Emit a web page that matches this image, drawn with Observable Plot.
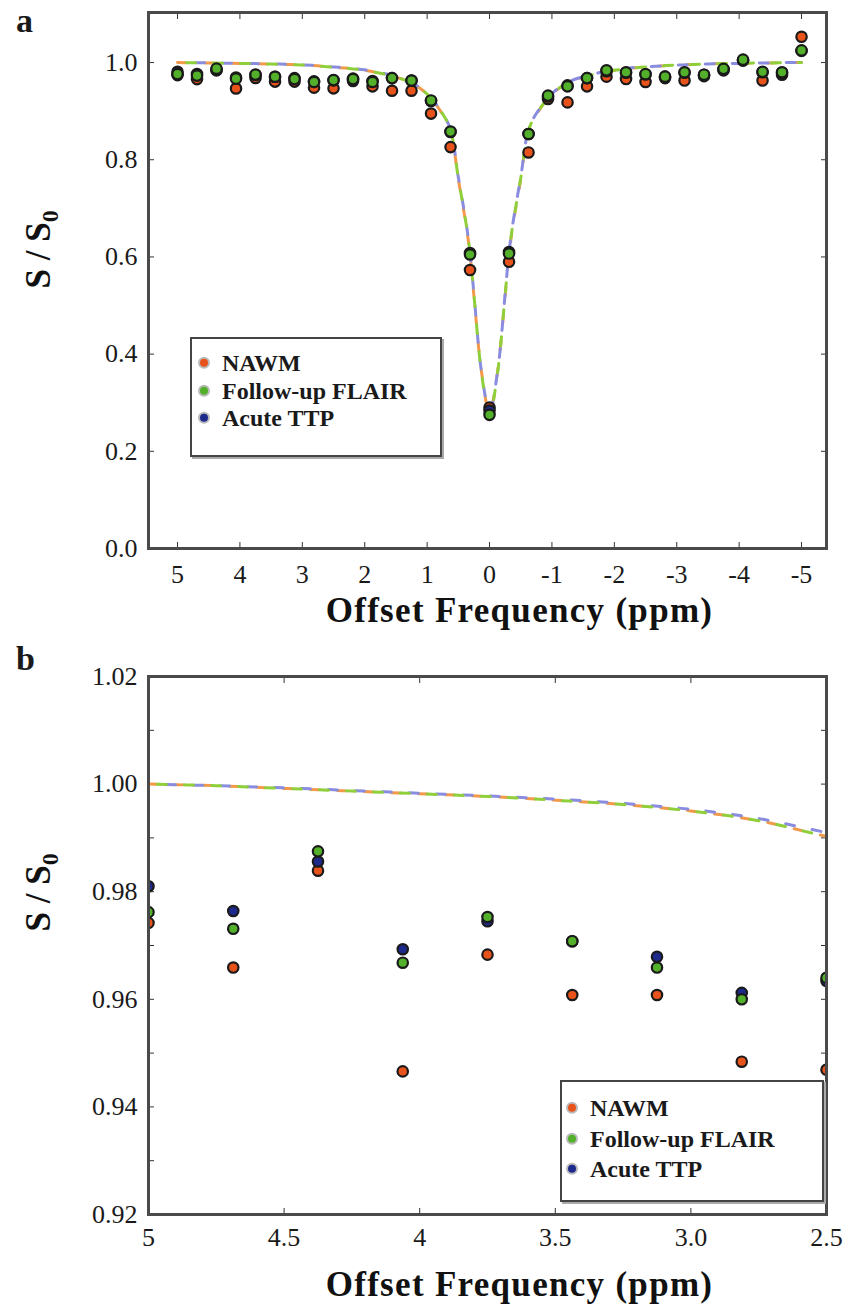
<!DOCTYPE html>
<html><head><meta charset="utf-8">
<script src="https://cdn.jsdelivr.net/npm/d3@7"></script>
<script src="https://cdn.jsdelivr.net/npm/@observablehq/plot@0.6"></script>
<style>
body{margin:0;background:#fff;}
#wrap{position:relative;width:854px;height:1307px;font-family:"Liberation Serif","Times New Roman",serif;color:#1a1a1a;overflow:hidden;}
.panel{position:absolute;left:0;}
.plab{position:absolute;font-weight:bold;font-size:34px;line-height:1.1;}
.legend{position:absolute;border:2px solid #444;background:#fff;box-shadow:2px 2px 0 #aaa;}
.row{position:absolute;left:0;white-space:nowrap;font-weight:bold;font-size:24px;line-height:1.1;transform:translateY(-50%);}
.dot{display:inline-block;width:8px;height:8px;border-radius:50%;border:2px solid #bbb;vertical-align:middle;margin-right:12px;position:relative;top:-2px;}
</style>
</head><body>
<div id="wrap">
  <div class="plab" style="left:16px;top:2px;">a</div>
  <div class="plab" style="left:16px;top:640px;">b</div>
</div>
<script>
// ---------- data ----------
const series = ["NAWM", "Follow-up FLAIR", "Acute TTP"];
const pointColors = ["#e8531c", "#52b02a", "#1d2a8c"];
const lineColors = ["#f29a4a", "#8fcf3a", "#8a8ce0"];
const xTitle = "Offset Frequency (ppm)";
const yTitle = "S / S";
const ySub = "0";

const offsets = [5, 4.6875, 4.375, 4.0625, 3.75, 3.4375, 3.125, 2.8125, 2.5, 2.1875, 1.875, 1.5625, 1.25, 0.9375, 0.625, 0.3125, 0,
  -0.3125, -0.625, -0.9375, -1.25, -1.5625, -1.875, -2.1875, -2.5, -2.8125, -3.125, -3.4375, -3.75, -4.0625, -4.375, -4.6875, -5];

const nawm  = [0.9742, 0.9659, 0.9839, 0.9466, 0.9683, 0.9608, 0.9608, 0.9484, 0.9469, 0.962, 0.951, 0.942, 0.942, 0.895, 0.826, 0.573, 0.290,
  0.590, 0.815, 0.925, 0.918, 0.951, 0.971, 0.966, 0.960, 0.968, 0.963, 0.972, 0.984, 1.004, 0.963, 0.975, 1.053];
const flair = [0.9762, 0.9731, 0.9875, 0.9668, 0.9753, 0.9708, 0.9659, 0.9600, 0.9640, 0.966, 0.960, 0.968, 0.963, 0.922, 0.858, 0.605, 0.275,
  0.607, 0.853, 0.932, 0.951, 0.968, 0.984, 0.980, 0.976, 0.971, 0.980, 0.975, 0.987, 1.006, 0.981, 0.980, 1.025];
const ttp   = [0.9810, 0.9764, 0.9856, 0.9693, 0.9745, 0.9708, 0.9679, 0.9612, 0.9634, 0.967, 0.962, 0.968, 0.963, 0.921, 0.857, 0.608, 0.284,
  0.610, 0.853, 0.930, 0.953, 0.968, 0.982, 0.979, 0.976, 0.971, 0.979, 0.975, 0.986, 1.005, 0.980, 0.979, 1.024];

// fitted curves
const fitOffsets = [5, 4.75, 4.5, 4.25, 4, 3.75, 3.5, 3.25, 3, 2.75, 2.5, 2.25, 2, 1.75, 1.5, 1.25, 1, 0.75, 0.625, 0.5, 0.375, 0.3125, 0.25, 0.125, 0,
  -0.125, -0.25, -0.3125, -0.375, -0.5, -0.625, -0.75, -1, -1.25, -1.5, -1.75, -2, -2.25, -2.5, -2.75, -3, -3.25, -3.5, -3.75, -4, -4.25, -4.5, -4.75, -5];
const fitNawm  = [1.000, 0.9997, 0.9992, 0.9987, 0.9982, 0.9977, 0.9970, 0.9962, 0.9950, 0.9932, 0.9903, 0.9880, 0.984, 0.978, 0.970, 0.958, 0.935, 0.893, 0.860, 0.760, 0.665, 0.605, 0.520, 0.360, 0.280,
  0.360, 0.520, 0.605, 0.665, 0.760, 0.860, 0.893, 0.935, 0.958, 0.970, 0.978, 0.984, 0.988, 0.991, 0.993, 0.995, 0.996, 0.997, 0.998, 0.998, 0.999, 0.999, 1.000, 1.000];
const fitFlair = [1.000, 0.9997, 0.9992, 0.9987, 0.9982, 0.9977, 0.9970, 0.9962, 0.9950, 0.9932, 0.9903, 0.9880, 0.984, 0.978, 0.970, 0.958, 0.935, 0.894, 0.861, 0.762, 0.668, 0.608, 0.522, 0.358, 0.275,
  0.358, 0.522, 0.608, 0.668, 0.762, 0.861, 0.894, 0.935, 0.958, 0.970, 0.978, 0.984, 0.988, 0.991, 0.993, 0.995, 0.996, 0.997, 0.998, 0.998, 0.999, 0.999, 1.000, 1.000];
const fitTtp   = [1.000, 0.9997, 0.9993, 0.9988, 0.9983, 0.9978, 0.9972, 0.9964, 0.9953, 0.9936, 0.9910, 0.9885, 0.985, 0.979, 0.971, 0.959, 0.936, 0.895, 0.862, 0.764, 0.670, 0.610, 0.524, 0.360, 0.282,
  0.360, 0.524, 0.610, 0.670, 0.764, 0.862, 0.895, 0.936, 0.959, 0.971, 0.979, 0.985, 0.989, 0.991, 0.993, 0.995, 0.996, 0.997, 0.998, 0.998, 0.999, 0.999, 1.000, 1.000];

const axTicks = [5, 4, 3, 2, 1, 0, -1, -2, -3, -4, -5];
const axLabels = ["5", "4", "3", "2", "1", "0", "-1", "-2", "-3", "-4", "-5"];
const ayTicks = [0, 0.2, 0.4, 0.6, 0.8, 1.0];
const ayLabels = ["0.0", "0.2", "0.4", "0.6", "0.8", "1.0"];
const bxTicks = [5, 4.5, 4, 3.5, 3, 2.5];
const bxLabels = ["5", "4.5", "4", "3.5", "3.0", "2.5"];
const byTicks = [0.92, 0.93, 0.94, 0.95, 0.96, 0.97, 0.98, 0.99, 1.00, 1.01, 1.02];
const byLabels = ["0.92", "", "0.94", "", "0.96", "", "0.98", "", "1.00", "", "1.02"];

// ---------- build tables ----------
const pointValues = [nawm, flair, ttp];
const fitValues = [fitNawm, fitFlair, fitTtp];
const drawOrder = [0, 2, 1]; // orange, blue, green on top
const points = drawOrder.flatMap(s => offsets.map((x, i) => ({x, y: pointValues[s][i], s})));
const fits = [0, 2, 1].map(s => fitOffsets.map((x, i) => ({x, y: fitValues[s][i], s})));

function lab(ticks, labels) { return d => { const i = ticks.findIndex(t => Math.abs(t - d) < 1e-9); return i < 0 ? "" : labels[i]; }; }

function panel({xDomain, yDomain, xTicks, xLabels, yTicks, yLabels, height, marginTop, marginBottom, xPad, xTitleDy, yTitleDy}) {
  const marks = [
    Plot.axisX({anchor: "bottom", ticks: xTicks, tickFormat: lab(xTicks, xLabels), tickSize: -6, tickPadding: xPad, label: null, stroke: "#333"}),
    Plot.axisX({anchor: "top", ticks: xTicks, tickFormat: () => "", tickSize: -6, label: null, stroke: "#333"}),
    Plot.axisY({anchor: "left", ticks: yTicks, tickFormat: lab(yTicks, yLabels), tickSize: -6, tickPadding: 17, label: null, stroke: "#333"}),
    Plot.axisY({anchor: "right", ticks: yTicks, tickFormat: () => "", tickSize: -6, label: null, stroke: "#333"}),
    Plot.text([xTitle], {text: d => d, frameAnchor: "bottom", dx: 32, dy: xTitleDy, fontWeight: "bold", fontSize: 35, fill: "#111"}),
    Plot.text([yTitle], {text: d => d, frameAnchor: "left", rotate: -90, dx: -110, dy: yTitleDy, fontWeight: "bold", fontSize: 35, fill: "#111"})
  ];
  fits.forEach((f, k) => {
    marks.push(Plot.line(f, {x: "x", y: "y", stroke: lineColors[f[0].s], strokeWidth: 3, curve: "catmull-rom", strokeDasharray: "9,18", strokeDashoffset: k * 9, clip: true}));
  });
  marks.push(Plot.dot(points, {x: "x", y: "y", r: 5.2, fill: d => pointColors[d.s], stroke: "#1a1a1a", strokeWidth: 2.2, clip: true}));
  marks.push(Plot.frame({stroke: "#4a4a4a", strokeWidth: 3}));
  return Plot.plot({
    width: 854, height, marginTop, marginBottom, marginLeft: 148, marginRight: 28,
    style: {fontFamily: "'Liberation Serif','Times New Roman',serif", fontSize: "26px", color: "#1a1a1a", background: "transparent", overflow: "visible"},
    x: {domain: xDomain},
    y: {domain: yDomain},
    marks
  });
}

const wrap = document.getElementById("wrap");
function place(svg, top) {
  const d = document.createElement("div");
  d.className = "panel"; d.style.top = top + "px";
  d.appendChild(svg); wrap.appendChild(d);
  svg.querySelectorAll("text").forEach(t => {
    if (t.textContent === yTitle) {
      const ts = document.createElementNS("http://www.w3.org/2000/svg", "tspan");
      ts.setAttribute("dy", "8"); ts.setAttribute("font-size", "24"); ts.textContent = ySub; t.appendChild(ts);
    }
    if (t.textContent === xTitle) t.setAttribute("letter-spacing", "1.3");
  });
}

place(panel({xDomain: [5.465, -5.40], yDomain: [0, 1.103], xTicks: axTicks, xLabels: axLabels, yTicks: ayTicks, yLabels: ayLabels,
  height: 625, marginTop: 12, marginBottom: 77, xPad: 22, xTitleDy: 73, yTitleDy: 8}), 0);
place(panel({xDomain: [5, 2.5], yDomain: [0.92, 1.02], xTicks: bxTicks, xLabels: bxLabels, yTicks: byTicks, yLabels: byLabels,
  height: 677, marginTop: 46, marginBottom: 93, xPad: 19, xTitleDy: 81, yTitleDy: -14}), 630);

// legends
function legend(left, top, w, h, rows, textLeft) {
  const L = document.createElement("div");
  L.className = "legend";
  Object.assign(L.style, {left: left + "px", top: top + "px", width: w + "px", height: h + "px"});
  series.forEach((name, i) => {
    const r = document.createElement("div");
    r.className = "row"; r.style.top = rows[i] + "px"; r.style.left = textLeft + "px";
    const dot = document.createElement("span"); dot.className = "dot"; dot.style.background = pointColors[i];
    r.appendChild(dot); r.appendChild(document.createTextNode(name));
    L.appendChild(r);
  });
  wrap.appendChild(L);
}
legend(190, 337, 248, 116, [24, 52, 79], 6);
legend(560, 1080, 260, 118, [26, 57, 87], 4);
</script>
</body></html>
